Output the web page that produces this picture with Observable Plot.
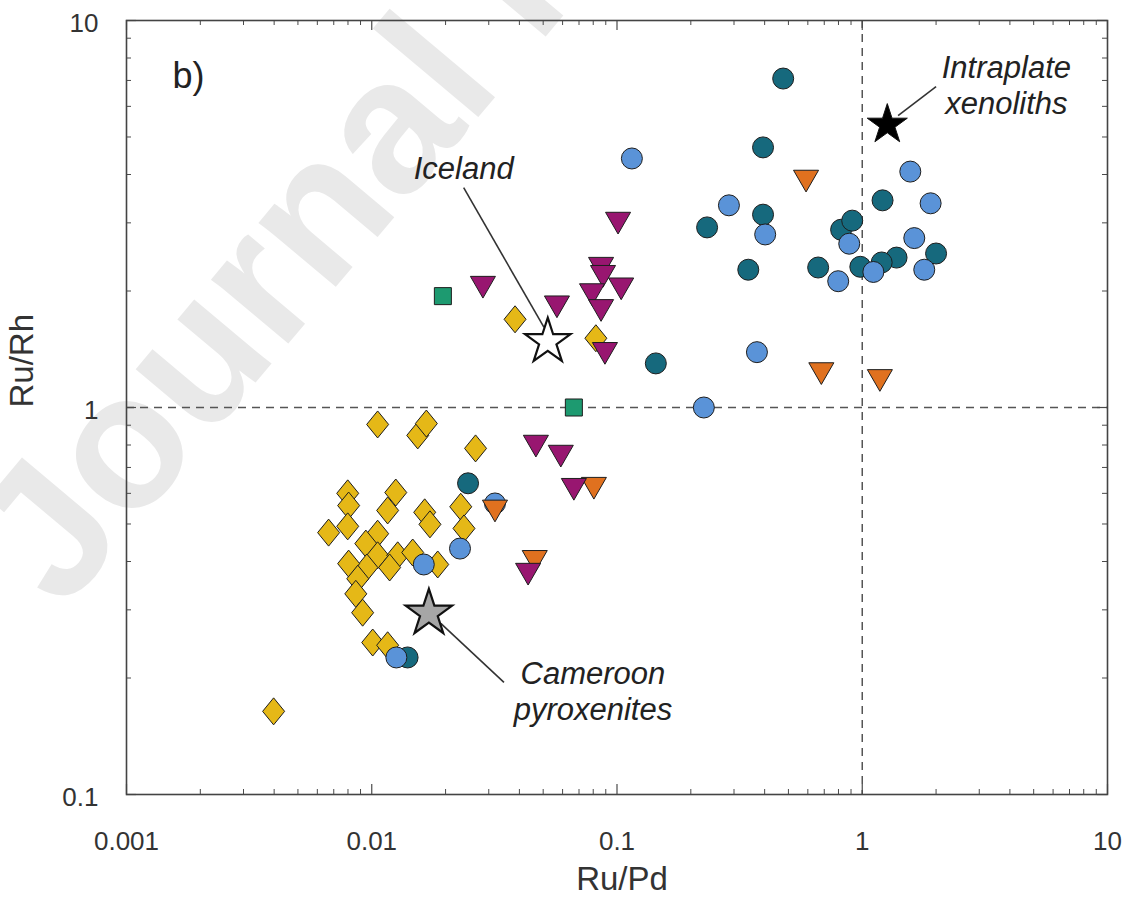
<!DOCTYPE html>
<html>
<head>
<meta charset="utf-8">
<script src="https://cdn.jsdelivr.net/npm/d3@7"></script>
<script src="https://cdn.jsdelivr.net/npm/@observablehq/plot@0.6"></script>
<style>
  html, body { margin: 0; padding: 0; background: #ffffff; }
  #chart svg { display: block; }
</style>
</head>
<body>
<div id="chart"></div>
<script>
// Ru/Pd versus Ru/Rh, grouped by sample suite (log–log)

// Dark teal circles
const tealRuPd = [0.476, 0.394, 0.233, 0.394, 0.343, 0.661, 0.820, 0.910, 0.982, 0.144, 1.21, 1.38, 1.20, 2.00, 0.0247, 0.0140];
const tealRuRh = [7.08, 4.70, 2.92, 3.15, 2.27, 2.30, 2.88, 3.04, 2.31, 1.30, 3.43, 2.44, 2.37, 2.50, 0.637, 0.226];

// Light blue circles
const blueRuPd = [0.115, 0.286, 0.402, 0.885, 0.798, 1.11, 1.57, 1.90, 1.63, 1.79, 0.372, 0.226, 0.0318, 0.0229, 0.0163, 0.0126];
const blueRuRh = [4.40, 3.33, 2.80, 2.65, 2.12, 2.24, 4.07, 3.37, 2.74, 2.27, 1.39, 1.00, 0.565, 0.432, 0.393, 0.226];

// Yellow diamonds
const goldRuPd = [0.0384, 0.0820, 0.01057, 0.0154, 0.0167, 0.0265, 0.00798, 0.00805, 0.00667, 0.00798,
  0.01253, 0.01161, 0.01644, 0.01727, 0.02306, 0.02377, 0.01057, 0.00946, 0.01057, 0.01276,
  0.01469, 0.01858, 0.01183, 0.00955, 0.00805, 0.00877, 0.00861, 0.00918, 0.01009, 0.01161, 0.00398];
const goldRuRh = [1.69, 1.51, 0.904, 0.847, 0.909, 0.784, 0.600, 0.558, 0.475, 0.493,
  0.603, 0.542, 0.536, 0.499, 0.554, 0.487, 0.472, 0.445, 0.415, 0.415,
  0.422, 0.393, 0.386, 0.386, 0.395, 0.361, 0.330, 0.295, 0.247, 0.243, 0.164];

// Green squares
const greenRuPd = [0.0195, 0.0667];
const greenRuRh = [1.94, 1.00];

// Orange down-triangles
const orangeRuPd = [0.590, 0.681, 1.18, 0.0805, 0.0318, 0.0462];
const orangeRuRh = [3.93, 1.25, 1.20, 0.632, 0.552, 0.409];

// Magenta down-triangles
const magentaRuPd = [0.101, 0.0861, 0.0877, 0.104, 0.0791, 0.0861, 0.0569, 0.0284, 0.0893, 0.0467, 0.0590, 0.0667, 0.0434];
const magentaRuRh = [3.06, 2.34, 2.23, 2.07, 2.00, 1.82, 1.86, 2.09, 1.41, 0.812, 0.765, 0.628, 0.379];

// Reference compositions (stars)
const refNames = ["Iceland", "Cameroon pyroxenites", "Intraplate xenoliths"];
const refRuPd = [0.0522, 0.0171, 1.265];
const refRuRh = [1.48, 0.294, 5.38];
const refFill = ["#ffffff", "#a6a6a6", "#000000"];
const refR = [14.3, 14.6, 12.6];

// Annotation labels and leader lines
const noteText = ["Iceland", "Cameroon\npyroxenites", "Intraplate\nxenoliths"];
const noteRuPd = [0.0237, 0.0798, 3.87];
const noteRuRh = [4.17, 0.1857, 6.84];
const leadX1 = [0.0237, 0.01912, 1.40];
const leadY1 = [3.70, 0.2767, 5.68];
const leadX2 = [0.0504, 0.0346, 2.00];
const leadY2 = [1.61, 0.1948, 6.75];

// Axis ticks
const xTicks = [0.001, 0.01, 0.1, 1, 10];
const xTickLabels = ["0.001", "0.01", "0.1", "1", "10"];
const yTicks = [0.1, 1, 10];
const yTickLabels = ["0.1", "1", "10"];
const minorSteps = [2, 3, 4, 5, 6, 7, 8, 9];

const xMinor = [0.001, 0.01, 0.1, 1].flatMap(d => minorSteps.map(k => k * d));
const yMinor = [0.1, 1].flatMap(d => minorSteps.map(k => k * d));
const xLabelOf = new Map(xTicks.map((v, i) => [v, xTickLabels[i]]));
const yLabelOf = new Map(yTicks.map((v, i) => [v, yTickLabels[i]]));

const pts = (xs, ys) => xs.map((x, i) => ({x, y: ys[i]}));
const teal = pts(tealRuPd, tealRuRh);
const blue = pts(blueRuPd, blueRuRh);
const gold = pts(goldRuPd, goldRuRh);
const green = pts(greenRuPd, greenRuRh);
const orange = pts(orangeRuPd, orangeRuRh);
const magenta = pts(magentaRuPd, magentaRuRh);
const refs = refNames.map((name, i) => ({name, x: refRuPd[i], y: refRuRh[i], fill: refFill[i], r: refR[i]}));
const notes = noteText.map((t, i) => ({t, x: noteRuPd[i], y: noteRuRh[i]}));
const leads = leadX1.map((x1, i) => ({x1, y1: leadY1[i], x2: leadX2[i], y2: leadY2[i]}));

// Slightly elongated diamond marker
const tallDiamond = {
  draw(ctx, size) {
    const r = Math.sqrt(size / Math.PI);
    const w = r * 1.1, h = r * 1.35;
    ctx.moveTo(0, -h);
    ctx.lineTo(w, 0);
    ctx.lineTo(0, h);
    ctx.lineTo(-w, 0);
    ctx.closePath();
  }
};

const W = 1122, H = 898;
const M = {top: 20, right: 15, bottom: 104, left: 126};
const frameW = W - M.left - M.right;
const frameH = H - M.top - M.bottom;
const axisColor = "#4a4a4a";
const textColor = "#333333";
const edge = "#1e1e1e";
const majorLen = 10, minorLen = 5;

const chart = Plot.plot({
  width: W,
  height: H,
  marginTop: M.top,
  marginRight: M.right,
  marginBottom: M.bottom,
  marginLeft: M.left,
  style: {fontFamily: "'Liberation Sans', Arial, Helvetica, sans-serif", background: "#ffffff", color: textColor},
  x: {type: "log", domain: [0.001, 10], label: null},
  y: {type: "log", domain: [0.1, 10], label: null},
  marks: [
    // faint watermark behind everything
    Plot.text(["Journal Pre-proof"], {
      frameAnchor: "top-left", dx: 62 - M.left, dy: 612 - M.top, rotate: -50,
      textAnchor: "start", lineAnchor: "bottom", fontSize: 190, fontWeight: "bold", fill: "#e9e9e9"
    }),

    // reference lines at Ru/Pd = 1 and Ru/Rh = 1
    Plot.ruleX([1], {stroke: "#555", strokeWidth: 1.5, strokeDasharray: "8,6"}),
    Plot.ruleY([1], {stroke: "#555", strokeWidth: 1.5, strokeDasharray: "8,6"}),

    // inward ticks on all four sides
    Plot.tickX(xTicks, {x: d => d, insetTop: frameH - majorLen, stroke: axisColor, strokeWidth: 1.2}),
    Plot.tickX(xMinor, {x: d => d, insetTop: frameH - minorLen, stroke: axisColor, strokeWidth: 1}),
    Plot.tickX(xTicks, {x: d => d, insetBottom: frameH - majorLen, stroke: axisColor, strokeWidth: 1.2}),
    Plot.tickX(xMinor, {x: d => d, insetBottom: frameH - minorLen, stroke: axisColor, strokeWidth: 1}),
    Plot.tickY(yTicks, {y: d => d, insetRight: frameW - majorLen, stroke: axisColor, strokeWidth: 1.2}),
    Plot.tickY(yMinor, {y: d => d, insetRight: frameW - minorLen, stroke: axisColor, strokeWidth: 1}),
    Plot.tickY(yTicks, {y: d => d, insetLeft: frameW - majorLen, stroke: axisColor, strokeWidth: 1.2}),
    Plot.tickY(yMinor, {y: d => d, insetLeft: frameW - minorLen, stroke: axisColor, strokeWidth: 1}),

    // tick labels
    Plot.axisX(xTicks, {tickSize: 0, tickPadding: 37, tickFormat: d => xLabelOf.get(d), fontSize: 26, fill: textColor, label: null}),
    Plot.axisY(yTicks, {tickSize: 0, tickPadding: 28, tickFormat: d => yLabelOf.get(d), fontSize: 26, fill: textColor, label: null, dy: 3}),

    // axis titles
    Plot.text(["Ru/Pd"], {frameAnchor: "bottom", dx: 5, dy: 95, fontSize: 33, fill: textColor}),
    Plot.text(["Ru/Rh"], {frameAnchor: "left", dx: -104, rotate: -90, fontSize: 33, fill: textColor}),

    // panel label
    Plot.text(["b)"], {frameAnchor: "top-left", dx: 46, dy: 56, textAnchor: "start", lineAnchor: "middle", fontSize: 36, fill: "#222"}),

    // sample groups
    Plot.dot(gold, {x: "x", y: "y", symbol: tallDiamond, r: 10, fill: "#e5b817", stroke: edge, strokeWidth: 1}),
    Plot.dot(teal, {x: "x", y: "y", symbol: "circle", r: 10.5, fill: "#16697d", stroke: edge, strokeWidth: 1}),
    Plot.dot(blue, {x: "x", y: "y", symbol: "circle", r: 10.5, fill: "#5a93d8", stroke: edge, strokeWidth: 1}),
    Plot.dot(green, {x: "x", y: "y", symbol: "square", r: 9.6, fill: "#1d9a70", stroke: edge, strokeWidth: 1}),
    Plot.dot(orange, {x: "x", y: "y", symbol: "triangle", rotate: 180, r: 9.3, fill: "#e0711f", stroke: edge, strokeWidth: 1}),
    Plot.dot(magenta, {x: "x", y: "y", symbol: "triangle", rotate: 180, r: 9.3, fill: "#981670", stroke: edge, strokeWidth: 1}),

    // leader lines and reference stars
    Plot.link(leads, {x1: "x1", y1: "y1", x2: "x2", y2: "y2", stroke: "#333", strokeWidth: 1.6}),
    ...refs.map(d => Plot.dot([d], {x: "x", y: "y", symbol: "star", r: d.r, fill: d.fill, stroke: "#111", strokeWidth: d.fill === "#000000" ? 1 : 2.2})),

    // annotation labels
    Plot.text(notes, {x: "x", y: "y", text: "t", fontSize: 31, fontStyle: "italic", fill: "#222", lineHeight: 1.18}),

    // plot frame
    Plot.frame({stroke: "#444", strokeWidth: 1.6})
  ]
});

document.getElementById("chart").appendChild(chart);
</script>
</body>
</html>
